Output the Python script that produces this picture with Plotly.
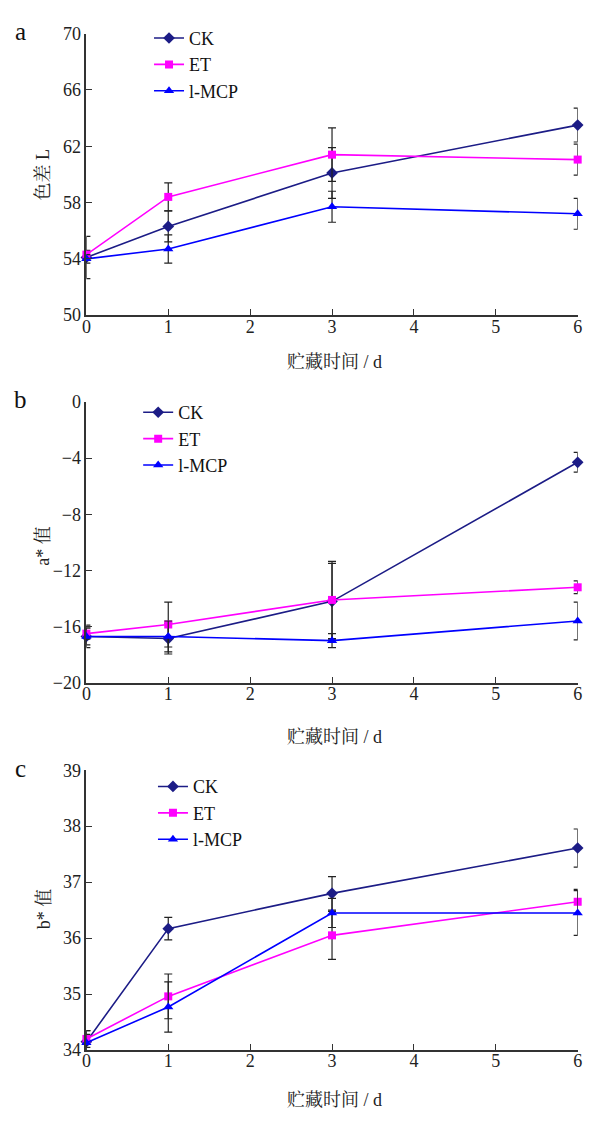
import plotly.graph_objects as go

days = [0, 1, 3, 6]
series_names = ["CK", "ET", "l-MCP"]

# Panel a: 色差 L
L_ck = [54.1, 56.3, 60.1, 63.5]
L_ck_err = [1.5, 1.1, 1.8, 1.2]
L_et = [54.3, 58.4, 61.4, 61.05]
L_et_err = [0.3, 1.0, 1.9, 1.1]
L_mcp = [54.0, 54.7, 57.7, 57.2]
L_mcp_err = [0.3, 1.0, 1.1, 1.1]

# Panel b: a* 值
a_ck = [-16.7, -16.85, -14.2, -4.3]
a_ck_err = [0.8, 1.1, 2.7, 0.7]
a_et = [-16.5, -15.85, -14.1, -13.2]
a_et_err = [0.4, 1.6, 2.75, 0.45]
a_mcp = [-16.7, -16.7, -17.0, -15.6]
a_mcp_err = [0.6, 1.1, 0.5, 1.35]

# Panel c: b* 值
b_ck = [34.15, 36.17, 36.8, 37.61]
b_ck_err = [0.2, 0.2, 0.3, 0.34]
b_et = [34.2, 34.96, 36.05, 36.65]
b_et_err = [0.15, 0.4, 0.43, 0.22]
b_mcp = [34.13, 34.77, 36.45, 36.45]
b_mcp_err = [0.15, 0.45, 0.26, 0.4]

x_ticks = [0, 1, 2, 3, 4, 5, 6]
yticks_a = [50, 54, 58, 62, 66, 70]
yticks_b = [-20, -16, -12, -8, -4, 0]
yticks_c = [34, 35, 36, 37, 38, 39]

panel_letters = ["a", "b", "c"]
y_titles = ["色差 L", "a* 值", "b* 值"]
x_title = "贮藏时间 / d"

colors = ["#1c1c86", "#ff00ff", "#0000ff"]
symbols = ["diamond", "square", "triangle-up"]
msizes = [9, 8, 9]

W, H = 595, 1122
SERIF = "Liberation Serif, Times New Roman, serif"
CJK = "Liberation Serif, Noto Serif CJK SC, Noto Sans CJK SC, serif"

panels = [
    ([L_ck, L_et, L_mcp], [L_ck_err, L_et_err, L_mcp_err], yticks_a, (24, 310.7)),
    ([a_ck, a_et, a_mcp], [a_ck_err, a_et_err, a_mcp_err], yticks_b, (399, 685)),
    ([b_ck, b_et, b_mcp], [b_ck_err, b_et_err, b_mcp_err], yticks_c, (774, 1059)),
]
legend_pos = [(147, 10), (136, 391), (151, 772)]
ytitle_pos = [(40, 167), (40, 545), (40, 915)]
xtitle_y = [358, 740, 1110]
letter_pos = [(17, 22), (17, 397), (17, 772)]

fig = go.Figure()
x_left, x_right = 83.5, 581.5

for p, (vals, errs, yt, (ytop, ybot)) in enumerate(panels):
    n = "" if p == 0 else str(p + 1)
    leg = "legend" if p == 0 else "legend" + str(p + 1)
    for s in range(3):
        fig.add_trace(go.Scatter(
            x=days, y=vals[s], name=series_names[s],
            mode="lines+markers",
            line=dict(color=colors[s], width=1.6),
            marker=dict(symbol=symbols[s], size=msizes[s], color=colors[s]),
            error_y=dict(type="data", array=errs[s], color="#222222",
                         thickness=1.2, width=4),
            xaxis="x" + n, yaxis="y" + n, legend=leg,
            cliponaxis=False,
        ))
    dom_y = [1 - ybot / H, 1 - ytop / H]
    axis_common = dict(showline=True, linecolor="#333333", linewidth=1.5,
                       ticks="inside", ticklen=6, tickcolor="#333333",
                       tickwidth=1.2, showgrid=False, zeroline=False,
                       tickfont=dict(family=SERIF, size=18, color="#222222"))
    fig.update_layout(**{
        "xaxis" + n: dict(domain=[x_left / W, x_right / W], range=[0, 6],
                          tickvals=x_ticks, anchor="y" + n,
                          ticklabelstandoff=-6, **axis_common),
        "yaxis" + n: dict(domain=dom_y, range=[yt[0], yt[-1]], tickvals=yt,
                          anchor="x" + n, **axis_common),
        leg: dict(x=legend_pos[p][0] / W, y=1 - legend_pos[p][1] / H,
                  xanchor="left", yanchor="top", bgcolor="rgba(0,0,0,0)",
                  font=dict(family=SERIF, size=18, color="#111111"),
                  itemwidth=30, tracegroupgap=0),
    })
    fig.add_annotation(x=ytitle_pos[p][0] / W, y=1 - ytitle_pos[p][1] / H,
                       xref="paper", yref="paper", text=y_titles[p],
                       textangle=-90, showarrow=False, xanchor="center",
                       yanchor="middle",
                       font=dict(family=CJK, size=18, color="#222222"))
    fig.add_annotation(x=335 / W, y=1 - xtitle_y[p] / H, xref="paper",
                       yref="paper", text=x_title, showarrow=False,
                       xanchor="center", yanchor="middle",
                       font=dict(family=CJK, size=18, color="#222222"))
    fig.add_annotation(x=letter_pos[p][0] / W, y=1 - letter_pos[p][1] / H,
                       xref="paper", yref="paper", text=panel_letters[p],
                       showarrow=False, xanchor="center", yanchor="middle",
                       font=dict(family=SERIF, size=25, color="#111111"))

fig.update_layout(width=W, height=H, margin=dict(l=0, r=0, t=0, b=0),
                  paper_bgcolor="white", plot_bgcolor="white",
                  showlegend=True)
fig.write_html("out.html")
